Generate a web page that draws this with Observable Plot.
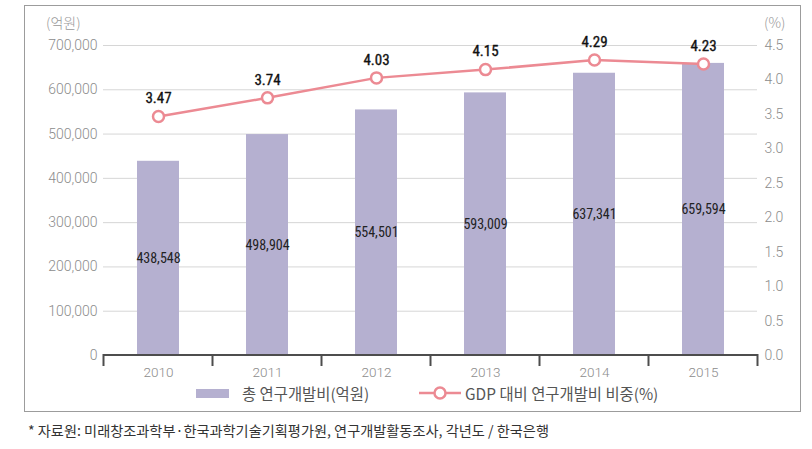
<!DOCTYPE html>
<html>
<head>
<meta charset="utf-8">
<script src="https://cdn.jsdelivr.net/npm/d3@7"></script>
<script src="https://cdn.jsdelivr.net/npm/@observablehq/plot@0.6"></script>
<style>
  html, body { margin: 0; padding: 0; background: #fff; }
  #page { position: relative; width: 812px; height: 449px; overflow: hidden; font-family: Roboto, "Noto Sans CJK KR", sans-serif; }
  #frame { position: absolute; left: 24px; top: 5px; width: 777px; height: 407px; border: 1.5px solid #9c9c9c; box-sizing: border-box; }
  #chart { position: absolute; left: 0; top: 0; }
  .unit { position: absolute; font-size: 14px; color: #999; font-family: "Noto Sans CJK KR", Roboto, sans-serif; font-weight: 300; }
  #legend { position: absolute; top: 383px; left: 0; width: 812px; height: 20px; }
  .leg { position: absolute; top: 0; font-size: 15.4px; color: #555; font-family: "Noto Sans CJK KR", sans-serif; line-height: 20px; white-space: nowrap; }
  #caption { position: absolute; left: 28px; top: 420px; font-size: 14.2px; color: #333; font-family: "Noto Sans CJK KR", sans-serif; white-space: nowrap; }
</style>
</head>
<body>
<div id="page">
  <div id="frame"></div>
  <div id="chart"></div>
  <div class="unit" style="left:46px; top:12px;">(억원)</div>
  <div class="unit" style="left:764px; top:12px;">(%)</div>
  <div id="legend"></div>
  <div id="caption">* 자료원: 미래창조과학부·한국과학기술기획평가원, 연구개발활동조사, 각년도 / 한국은행</div>
</div>
<script>
// ---- data ----
const years = ["2010", "2011", "2012", "2013", "2014", "2015"];
const rdTotal = [438548, 498904, 554501, 593009, 637341, 659594];   // 억원
const rdShare = [3.47, 3.74, 4.03, 4.15, 4.29, 4.23];               // % of GDP
const leftTicks = [0, 100000, 200000, 300000, 400000, 500000, 600000, 700000];
const rightTicks = [0, 0.5, 1.0, 1.5, 2.0, 2.5, 3.0, 3.5, 4.0, 4.5];
const seriesNames = ["총 연구개발비(억원)", "GDP 대비 연구개발비 비중(%)"];

const K = 700000 / 4.5; // maps % onto the left axis domain
const data = years.map((y, i) => ({year: y, rd: rdTotal[i], pct: rdShare[i]}));

const barColor = "#b5b0d0";
const lineColor = "#ec8a93";
const axisFont = "Roboto, sans-serif";
const numFont = "'Liberation Sans Narrow', 'Roboto Condensed', Roboto, sans-serif";

// baseline with band-boundary ticks, drawn from the x / y scales
function baseline(index, scales, values, dims) {
  const g = d3.create("svg:g");
  const x = scales.x, y = scales.y;
  const y0 = y(0);
  const step = x.step ? x.step() : (x(years[1]) - x(years[0]));
  const bw = x.bandwidth ? x.bandwidth() : 0;
  const xs = years.map(d => x(d) + bw / 2 - step / 2);
  xs.push(x(years[years.length - 1]) + bw / 2 + step / 2);
  g.append("line").attr("x1", xs[0]).attr("x2", xs[xs.length - 1])
    .attr("y1", y0).attr("y2", y0).attr("stroke", "#4d4d4d").attr("stroke-width", 2);
  for (const xv of xs) {
    g.append("line").attr("x1", xv).attr("x2", xv).attr("y1", y0 - 1).attr("y2", y0 + 11)
      .attr("stroke", "#4d4d4d").attr("stroke-width", 2);
  }
  return g.node();
}

const W = 812, H = 385;
const chart = Plot.plot({
  width: W,
  height: H,
  marginLeft: 103,
  marginRight: 55,
  marginTop: 45,
  marginBottom: 30,
  style: {background: "transparent", overflow: "visible"},
  x: {type: "band", domain: years, paddingInner: 0.615, paddingOuter: 0.3075},
  y: {domain: [0, 700000]},
  marks: [
    Plot.gridY(leftTicks.filter(d => d > 0), {stroke: "#d6d6d6", strokeOpacity: 1, strokeWidth: 1}),
    Plot.barY(data, {x: "year", y: "rd", fill: barColor}),
    baseline,
    Plot.axisY(leftTicks, {
      anchor: "left", tickSize: 0, tickPadding: 6, label: null,
      tickFormat: d => d3.format(",")(d), fontSize: 14, fill: "#8c8c8c", fontFamily: axisFont, fontWeight: 300
    }),
    Plot.axisY(rightTicks.map(p => p * K), {
      anchor: "right", tickSize: 0, tickPadding: 7, label: null,
      tickFormat: d => (d / K).toFixed(1), fontSize: 14, fill: "#8c8c8c", fontFamily: axisFont, fontWeight: 300
    }),
    Plot.axisX({tickSize: 0, tickPadding: 12, label: null, fontSize: 13.5, fill: "#8c8c8c", fontFamily: axisFont, fontWeight: 300}),
    Plot.text(data, {
      x: "year", y: d => d.rd / 2, text: d => d3.format(",")(d.rd),
      fontSize: 14, fill: "#222", fontFamily: numFont
    }),
    Plot.line(data, {x: "year", y: d => d.pct * K, stroke: lineColor, strokeWidth: 2.5}),
    Plot.dot(data, {x: "year", y: d => d.pct * K, r: 5.5, fill: "#fff", stroke: lineColor, strokeWidth: 2.5}),
    Plot.text(data, {
      x: "year", y: d => d.pct * K, dy: -18, text: d => d.pct.toFixed(2),
      fontSize: 15, fill: "#111", stroke: "#111", strokeWidth: 0.35, fontFamily: numFont
    })
  ]
});
document.getElementById("chart").appendChild(chart);

// legend
const legend = document.getElementById("legend");
legend.innerHTML = `
  <svg style="position:absolute;left:196px;top:6px" width="34" height="9"><rect width="33" height="9" fill="${barColor}"></rect></svg>
  <div class="leg" style="left:242px">${seriesNames[0]}</div>
  <svg style="position:absolute;left:418px;top:1px" width="44" height="18">
    <line x1="1" x2="43" y1="9" y2="9" stroke="${lineColor}" stroke-width="2.5"></line>
    <circle cx="22" cy="9" r="5.5" fill="#fff" stroke="${lineColor}" stroke-width="2.5"></circle>
  </svg>
  <div class="leg" style="left:465px">${seriesNames[1]}</div>
`;
</script>
</body>
</html>
